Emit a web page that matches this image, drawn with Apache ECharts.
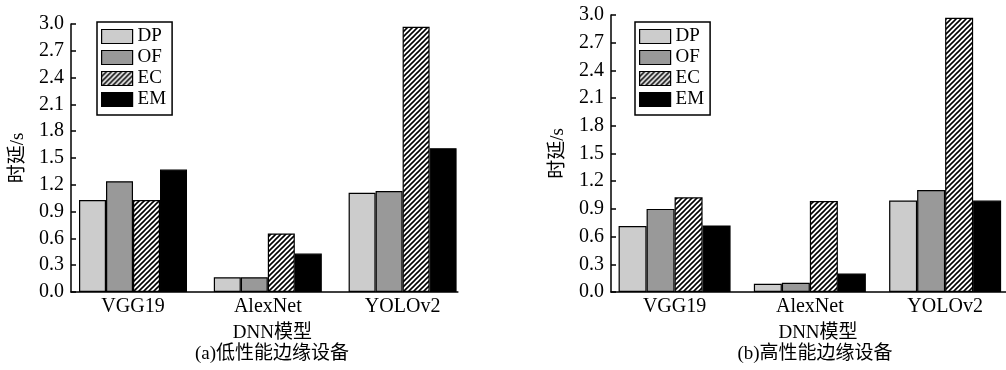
<!DOCTYPE html>
<html>
<head>
<meta charset="utf-8">
<script src="https://cdn.jsdelivr.net/npm/echarts@6/dist/echarts.min.js"></script>
<style>
html,body{margin:0;padding:0;background:#fff;}
#chart{width:1006px;height:370px;}
</style>
</head>
<body>
<div id="chart"></div>
<script>
// ---- data ----
const categories = ['VGG19', 'AlexNet', 'YOLOv2'];
const seriesNames = ['DP', 'OF', 'EC', 'EM'];
// (a) low-performance edge device
const lowDP = [1.03, 0.165, 1.11];
const lowOF = [1.24, 0.165, 1.13];
const lowEC = [1.03, 0.655, 2.97];
const lowEM = [1.37, 0.43, 1.61];
// (b) high-performance edge device
const highDP = [0.715, 0.09, 0.99];
const highOF = [0.90, 0.10, 1.105];
const highEC = [1.025, 0.985, 2.97];
const highEM = [0.72, 0.20, 0.99];
const yTickLabels = ['0.0','0.3','0.6','0.9','1.2','1.5','1.8','2.1','2.4','2.7','3.0'];
const yName = '时延/s';
const xName = 'DNN模型';
const captions = ['(a)低性能边缘设备', '(b)高性能边缘设备'];

// ---- styles ----
const FONT = "'Liberation Serif', 'Noto Sans CJK SC', serif";
function hatch() {
  const s = 5;
  const c = document.createElement('canvas');
  c.width = s; c.height = s;
  const g = c.getContext('2d');
  g.fillStyle = '#ffffff';
  g.fillRect(0, 0, s, s);
  g.strokeStyle = '#000000';
  g.lineWidth = 1.6;
  g.beginPath();
  g.moveTo(0, s); g.lineTo(s, 0);
  g.moveTo(-1, 1); g.lineTo(1, -1);
  g.moveTo(s - 1, s + 1); g.lineTo(s + 1, s - 1);
  g.stroke();
  return c;
}
const fills = ['#cccccc', '#999999', { image: hatch(), repeat: 'repeat' }, '#000000'];

const panels = [
  { values: [lowDP, lowOF, lowEC, lowEM], left: 71, top: 24, height: 268, min: 0.54, max: 3.41, pxPerUnit: 134.8, barWidth: 27, legendLeft: 97, namePad: 16, capX: 272 },
  { values: [highDP, highOF, highEC, highEM], left: 611, top: 15, height: 277, min: 0.53, max: 3.45, pxPerUnit: 139.5, barWidth: 28, legendLeft: 635, namePad: 19, capX: 815 }
];

const grid = [], xAxis = [], yAxis = [], series = [], legend = [], graphic = [];
panels.forEach((p, k) => {
  grid.push({ left: p.left, top: p.top, height: p.height, width: (p.max - p.min) * p.pxPerUnit, containLabel: false });
  xAxis.push({
    type: 'value', gridIndex: k, min: p.min, max: p.max,
    axisLine: { show: true, onZero: false, lineStyle: { color: '#000', width: 1.5 } },
    axisTick: { show: false },
    splitLine: { show: false },
    axisLabel: {
      customValues: categories.map((c, i) => i + 1),
      formatter: v => categories[Math.round(v) - 1] || '',
      color: '#000', fontFamily: FONT, fontSize: 20, margin: 5
    },
    name: xName, nameLocation: 'middle', nameGap: 32,
    nameTextStyle: { color: '#000', fontFamily: FONT, fontSize: 19, padding: [0, 0, 0, p.namePad] }
  });
  yAxis.push({
    type: 'value', gridIndex: k, min: 0, max: 3, interval: 0.3,
    axisLine: { show: true, lineStyle: { color: '#000', width: 1.5 } },
    axisTick: { show: true, inside: true, length: 5, lineStyle: { color: '#000', width: 1.5 } },
    splitLine: { show: false },
    axisLabel: {
      formatter: (v) => yTickLabels[Math.round(v / 0.3)],
      color: '#000', fontFamily: FONT, fontSize: 20, margin: 7
    },
    name: yName, nameLocation: 'middle', nameGap: 43, nameRotate: 90,
    nameTextStyle: { color: '#000', fontFamily: FONT, fontSize: 19 }
  });
  seriesNames.forEach((n, j) => {
    series.push({
      type: 'bar', name: n, xAxisIndex: k, yAxisIndex: k,
      barWidth: p.barWidth, barGap: '0%',
      itemStyle: { color: fills[j], borderColor: '#000', borderWidth: 1.2 },
      emphasis: { disabled: true },
      data: p.values[j].map((v, i) => [i + 1, v])
    });
  });
  legend.push({
    data: seriesNames, orient: 'vertical', left: p.legendLeft, top: 22,
    itemWidth: 31, itemHeight: 14, itemGap: 2,
    padding: [5, 6, 6, 4],
    borderColor: '#000', borderWidth: 1.5,
    icon: 'rect',
    itemStyle: { borderColor: '#000', borderWidth: 1.2 },
    textStyle: { color: '#000', fontFamily: FONT, fontSize: 19, lineHeight: 15 },
    selectedMode: false
  });
  graphic.push({
    type: 'text', x: p.capX, y: 354,
    style: { text: captions[k], fill: '#000', font: "19px 'Liberation Serif', 'Noto Sans CJK SC'", textAlign: 'center', textVerticalAlign: 'middle' }
  });
});

const chart = echarts.init(document.getElementById('chart'), null, { renderer: 'canvas' });
chart.setOption({
  animation: false,
  backgroundColor: '#fff',
  grid, xAxis, yAxis, series, legend, graphic
});
</script>
</body>
</html>
